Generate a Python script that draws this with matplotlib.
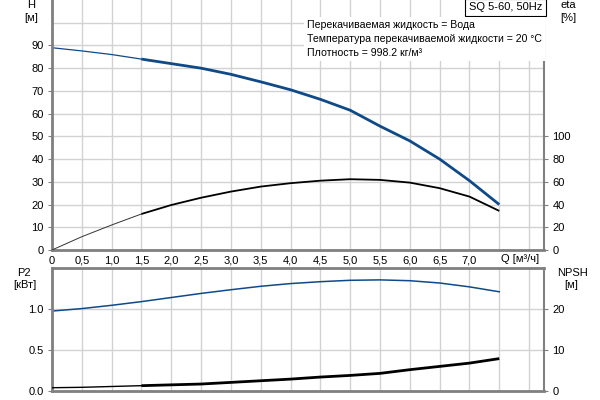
import numpy as np
from matplotlib import pyplot as plt
from matplotlib.ticker import FixedLocator

plt.rcParams['font.family'] = ['Liberation Sans', 'DejaVu Sans']
plt.rcParams['font.size'] = 8

# flow [m3/h]
q = [0, 0.5, 1.0, 1.5, 2.0, 2.5, 3.0, 3.5, 4.0, 4.5, 5.0, 5.5, 6.0, 6.5, 7.0, 7.5]
# head [m]
head = [89, 87.6, 86, 84, 82, 80, 77.3, 74, 70.5, 66.3, 61.5, 54.5, 48, 40, 30.5, 20]
# efficiency [%]
eta = [0, 11.7, 22, 31.7, 39.6, 46, 51.4, 55.8, 58.8, 61, 62.3, 61.7, 59.3, 54.4, 47, 34.4]
# shaft power [kW]
p2 = [0.975, 1.005, 1.045, 1.09, 1.14, 1.19, 1.235, 1.277, 1.31, 1.333, 1.35, 1.355, 1.345, 1.317, 1.27, 1.21]
# NPSH [m]
npsh = [0.8, 0.9, 1.1, 1.3, 1.5, 1.7, 2.1, 2.5, 2.9, 3.4, 3.8, 4.3, 5.2, 6.0, 6.8, 7.9]

x_major = [0, 0.5, 1.0, 1.5, 2.0, 2.5, 3.0, 3.5, 4.0, 4.5, 5.0, 5.5, 6.0, 6.5, 7.0]
x_labels = ['0'] + [f"{v:.1f}".replace('.', ',') for v in x_major[1:]]
x_minor = [7.5, 8.0]

blue = '#0f4a88'
spine_c = '#808080'
grid_c = '#d2d2d2'
W, H = 600, 400


def fx(px):
    return px / W


def fy(py):
    return 1 - py / H


fig = plt.figure(figsize=(6, 4), dpi=100)
ax1 = fig.add_axes([fx(52), fy(250), fx(544 - 52), (250 - 0) / H])
ax2 = fig.add_axes([fx(52), fy(391), fx(544 - 52), (391 - 268) / H])


def style(ax, top):
    ax.set_xlim(0, 8.25)
    ax.xaxis.set_major_locator(FixedLocator(x_major))
    ax.xaxis.set_minor_locator(FixedLocator(x_minor))
    ax.grid(True, which='both', color=grid_c, lw=1)
    ax.set_axisbelow(True)
    ax.tick_params(axis='x', which='both', length=0, pad=4)
    ax.tick_params(axis='y', which='major', length=3, color=spine_c, pad=3)
    ax.tick_params(axis='y', which='minor', length=0)
    ax.spines['left'].set(color=spine_c, lw=2)
    ax.spines['bottom'].set(color=spine_c, lw=2)
    ax.spines['right'].set(color=spine_c, lw=1.5)
    if top:
        ax.spines['top'].set_visible(False)
    else:
        ax.spines['top'].set(color=spine_c, lw=2)


# --- upper chart: H and eta
style(ax1, True)
ax1.set_xticklabels(x_labels)
ax1.set_ylim(0, 110)
ax1.set_yticks(range(0, 91, 10))
ax1.yaxis.set_minor_locator(FixedLocator([100]))
ax1.plot(q[:4], head[:4], color=blue, lw=0.9)
ax1.plot(q[3:], head[3:], color=blue, lw=2.0, solid_capstyle='butt')

ax1r = ax1.twinx()
ax1r.set_ylim(0, 220)
ax1r.set_yticks(range(0, 101, 20))
ax1r.tick_params(axis='y', length=3, color=spine_c, pad=3)
for s in ax1r.spines.values():
    s.set_visible(False)
ax1r.plot(q[:4], eta[:4], color='#333333', lw=0.7)
ax1r.plot(q[3:], eta[3:], color='black', lw=1.3, solid_capstyle='butt')

# --- lower chart: P2 and NPSH
style(ax2, False)
ax2.set_xticklabels([])
ax2.set_ylim(0, 1.5)
ax2.set_yticks([0, 0.5, 1.0])
ax2.set_yticklabels(['0.0', '0.5', '1.0'])
ax2.plot(q, p2, color=blue, lw=1.1)

ax2r = ax2.twinx()
ax2r.set_ylim(0, 30)
ax2r.set_yticks([0, 10, 20])
ax2r.tick_params(axis='y', length=3, color=spine_c, pad=3)
for s in ax2r.spines.values():
    s.set_visible(False)
ax2r.plot(q[:4], npsh[:4], color='black', lw=1.0)
ax2r.plot(q[3:], npsh[3:], color='black', lw=2.0, solid_capstyle='butt')

# --- axis captions
fig.text(fx(31), fy(5), 'H', ha='center', va='center')
fig.text(fx(31), fy(18), '[м]', ha='center', va='center')
fig.text(fx(568), fy(5), 'eta', ha='center', va='center')
fig.text(fx(568), fy(18), '[%]', ha='center', va='center')
fig.text(fx(24), fy(273), 'P2', ha='center', va='center')
fig.text(fx(25), fy(285), '[кВт]', ha='center', va='center')
fig.text(fx(572), fy(273), 'NPSH', ha='center', va='center')
fig.text(fx(571), fy(285), '[м]', ha='center', va='center')
fig.text(fx(520), fy(259), 'Q [м³/ч]', ha='center', va='center',
         bbox=dict(facecolor='white', edgecolor='none', pad=0.5))

fig.text(fx(505.5), fy(7.5), 'SQ 5-60, 50Hz', ha='center', va='center',
         bbox=dict(facecolor='white', edgecolor='black', lw=0.8, boxstyle='square,pad=0.3'))

info = ('Перекачиваемая жидкость = Вода\n'
        'Температура перекачиваемой жидкости = 20 °C\n'
        'Плотность = 998.2 кг/м³')
fig.text(fx(307), fy(39), info, ha='left', va='center', linespacing=1.5,
         fontsize=7.6,
         bbox=dict(facecolor='white', edgecolor='none', boxstyle='square,pad=0.3'))

fig.savefig('out.png', dpi=100)
